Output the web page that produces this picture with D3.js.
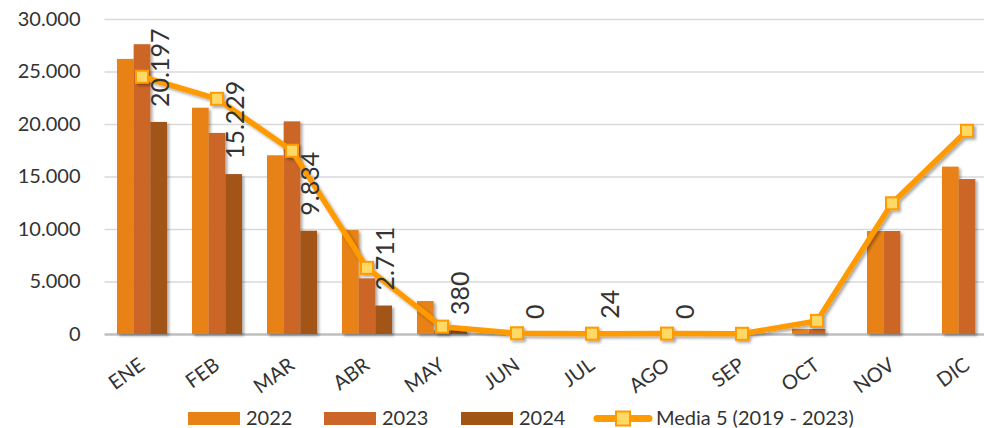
<!DOCTYPE html>
<html>
<head>
<meta charset="utf-8">
<script src="https://cdn.jsdelivr.net/npm/d3@7"></script>
<style>
  body { margin: 0; background: #fff; }
</style>
</head>
<body>
<svg></svg>
<script>
const months = ['ENE', 'FEB', 'MAR', 'ABR', 'MAY', 'JUN', 'JUL', 'AGO', 'SEP', 'OCT', 'NOV', 'DIC'];
const years = ['2022', '2023', '2024'];
const values2022 = [26200, 21550, 17020, 9900, 3140, 0, 0, 0, 0, 480, 9810, 15940];
const values2023 = [27600, 19150, 20250, 5300, 350, 0, 0, 0, 0, 480, 9810, 14760];
const values2024 = [20197, 15229, 9834, 2711, 380, 0, 24, 0, null, null, null, null];
const media5 = [24500, 22400, 17450, 6300, 700, 70, 30, 40, 20, 1250, 12450, 19350];
const yTicks = [0, 5000, 10000, 15000, 20000, 25000, 30000];
const mediaLabel = 'Media 5 (2019 - 2023)';

const WIDTH = 984;
const HEIGHT = 428;
const PLOT_LEFT = 104.5;
const PLOT_RIGHT = 1004.5;
const PLOT_TOP = 19;
const PLOT_BOTTOM = 334;

const barColors = { '2022': '#E88216', '2023': '#CC6628', '2024': '#A25414' };
const LINE_COLOR = '#FF9A00';
const MARKER_FILL = '#FFD966';
const TEXT_COLOR = '#333';
const FONT = 'Lato, "Noto Sans", sans-serif';

const seriesByYear = { '2022': values2022, '2023': values2023, '2024': values2024 };

const svg = d3.select('svg').
attr('width', WIDTH).
attr('height', HEIGHT).
attr('font-family', FONT);

const defs = svg.append('defs');
const shadow = defs.append('filter').
attr('id', 'shadow').
attr('x', '-20%').attr('y', '-20%').
attr('width', '160%').attr('height', '160%');
shadow.append('feDropShadow').
attr('dx', 2).attr('dy', 2).
attr('stdDeviation', 1.6).
attr('flood-color', '#000').
attr('flood-opacity', 0.35);

const xScale = d3.scaleBand().
domain(months).
range([PLOT_LEFT, PLOT_RIGHT]);

const step = xScale.bandwidth();
const xSub = d3.scaleBand().
domain(years).
range([step / 6, step * 5 / 6]);

const yScale = d3.scaleLinear().
domain([0, 30000]).
range([PLOT_BOTTOM, PLOT_TOP]);

const fmt = d3.formatLocale({ decimal: ',', thousands: '.', grouping: [3], currency: ['', ''] }).format(',');

/* --GRID & Y AXIS-- */

const yAxis = d3.axisLeft(yScale).
tickValues(yTicks).
tickSize(-(PLOT_RIGHT - PLOT_LEFT)).
tickPadding(24).
tickFormat(fmt);

const yAxisG = svg.append('g').
attr('transform', `translate(${PLOT_LEFT},0)`).
call(yAxis);

yAxisG.select('.domain').remove();
yAxisG.selectAll('.tick line').
attr('stroke', d => d === 0 ? '#BFBFBF' : '#D9D9D9').
attr('stroke-width', d => d === 0 ? 2.5 : 1.5);
yAxisG.selectAll('.tick text').
attr('fill', TEXT_COLOR).
attr('font-size', '20px').
attr('font-family', FONT);

/* --BARS-- */

const barData = [];
months.forEach((m, i) => {
  years.forEach(y => {
    const v = seriesByYear[y][i];
    if (v !== null) barData.push({ month: m, year: y, value: v });
  });
});

svg.append('g').
attr('filter', 'url(#shadow)').
selectAll('rect').
data(barData).
join('rect').
attr('x', d => xScale(d.month) + xSub(d.year)).
attr('width', xSub.bandwidth()).
attr('y', d => yScale(d.value)).
attr('height', d => PLOT_BOTTOM - yScale(d.value)).
attr('fill', d => barColors[d.year]);

/* --MEDIA LINE-- */

const lineData = months.map((m, i) => ({ month: m, value: media5[i] }));
const cx = d => xScale(d.month) + step / 2;

const lineG = svg.append('g').
attr('filter', 'url(#shadow)');

lineG.append('path').
datum(lineData).
attr('fill', 'none').
attr('stroke', LINE_COLOR).
attr('stroke-width', 5.5).
attr('stroke-linejoin', 'round').
attr('d', d3.line().x(cx).y(d => yScale(d.value)));

lineG.selectAll('rect').
data(lineData).
join('rect').
attr('x', d => cx(d) - 6).
attr('y', d => yScale(d.value) - 6).
attr('width', 12).
attr('height', 12).
attr('fill', MARKER_FILL).
attr('stroke', LINE_COLOR).
attr('stroke-width', 2);

/* --DATA LABELS (2024)-- */

const labelData = barData.filter(d => d.year === '2024');

svg.append('g').
selectAll('text').
data(labelData).
join('text').
attr('transform', d => {
  const x = xScale(d.month) + xSub('2024') + xSub.bandwidth() / 2 + 10;
  const y = yScale(d.value) - 15;
  return `translate(${x},${y}) rotate(-90)`;
}).
attr('font-size', '25px').
attr('fill', TEXT_COLOR).
text(d => fmt(d.value));

/* --X LABELS-- */

svg.append('g').
selectAll('text').
data(months).
join('text').
attr('transform', m => `translate(${xScale(m) + step / 2 + 4},${368}) rotate(-36)`).
attr('text-anchor', 'end').
attr('font-size', '20px').
attr('fill', TEXT_COLOR).
text(m => m);

/* --LEGEND-- */

const legendG = svg.append('g');
const legendX = { '2022': 188, '2023': 324, '2024': 461 };

years.forEach(y => {
  legendG.append('rect').
  attr('x', legendX[y]).
  attr('y', 412).
  attr('width', 52).
  attr('height', 13).
  attr('fill', barColors[y]);

  legendG.append('text').
  attr('x', legendX[y] + 58).
  attr('y', 425).
  attr('font-size', '20px').
  attr('fill', TEXT_COLOR).
  text(y);
});

legendG.append('line').
attr('x1', 597).attr('x2', 649).
attr('y1', 418.5).attr('y2', 418.5).
attr('stroke', LINE_COLOR).
attr('stroke-width', 7).
attr('stroke-linecap', 'round');

legendG.append('rect').
attr('x', 616).attr('y', 411.5).
attr('width', 14).attr('height', 14).
attr('fill', MARKER_FILL).
attr('stroke', LINE_COLOR).
attr('stroke-width', 2);

legendG.append('text').
attr('x', 656).
attr('y', 425).
attr('font-size', '20px').
attr('fill', TEXT_COLOR).
text(mediaLabel);
</script>
</body>
</html>
